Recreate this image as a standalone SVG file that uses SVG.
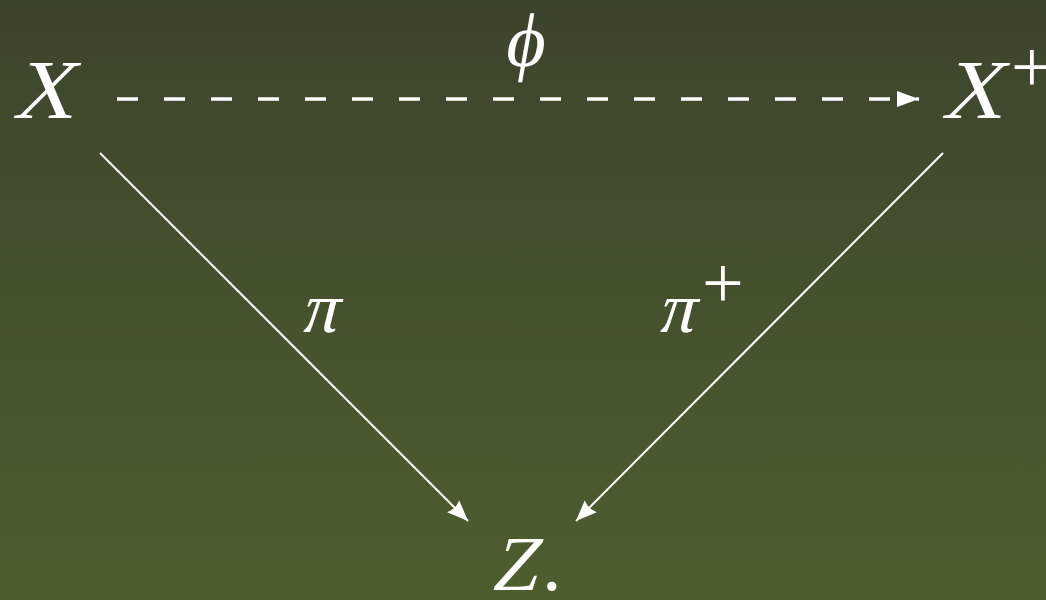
<svg xmlns="http://www.w3.org/2000/svg" width="1046" height="600" viewBox="0 0 1046 600">
<defs>
<linearGradient id="bg" x1="0" y1="0" x2="0" y2="1">
<stop offset="0" stop-color="#3c452d"/>
<stop offset="1" stop-color="#4d5e2e"/>
</linearGradient>
<marker id="tri" viewBox="0 0 22 16" refX="22" refY="8" markerWidth="22" markerHeight="16" markerUnits="userSpaceOnUse" orient="auto">
<path d="M0,0 L22,8 L0,16 Z" fill="#fff"/>
</marker>
<marker id="tip" viewBox="0 0 22 18" refX="21" refY="9" markerWidth="22" markerHeight="18" markerUnits="userSpaceOnUse" orient="auto">
<path d="M0,0.5 L21,9 L0,17.5 Q4,9 0,0.5 Z" fill="#fff"/>
</marker>
<style>
.m{font-family:"Liberation Serif",serif;font-style:normal;fill:#fff}
.r{font-family:"Liberation Serif",serif;fill:#fff}
.ln{stroke:#fff;fill:none;stroke-width:2}
.dash{stroke:#fff;fill:none;stroke-width:3.5;stroke-dasharray:21 26}
</style>
</defs>
<rect width="1046" height="600" fill="url(#bg)"/>
<g id="connectors">
<line class="dash" x1="117" y1="99" x2="919" y2="99" marker-end="url(#tri)"/>
<line class="ln" x1="100" y1="153" x2="468" y2="521" marker-end="url(#tip)"/>
<line class="ln" x1="943" y1="153" x2="576" y2="521" marker-end="url(#tip)"/>
</g>
<g id="node-X"><text class="m" transform="translate(12,118) skewX(-14)" font-size="84">X</text></g>
<g id="node-Xplus"><text class="m" transform="translate(941,118) skewX(-14)" font-size="84">X</text><text class="r" x="1011" y="92" font-size="74">+</text></g>
<g id="node-Z"><text class="m" transform="translate(490,590) skewX(-14)" font-size="78">Z</text><text class="r" x="542" y="590" font-size="78">.</text></g>
<g id="label-phi"><text class="m" transform="translate(523,66) skewX(-10)" font-size="76" text-anchor="middle">ϕ</text></g>
<g id="label-pi"><text class="m" transform="translate(300,332) skewX(-14)" font-size="72">π</text></g>
<g id="label-piplus"><text class="m" transform="translate(657,332) skewX(-14)" font-size="72">π</text><text class="r" x="702" y="308" font-size="74">+</text></g>
</svg>
